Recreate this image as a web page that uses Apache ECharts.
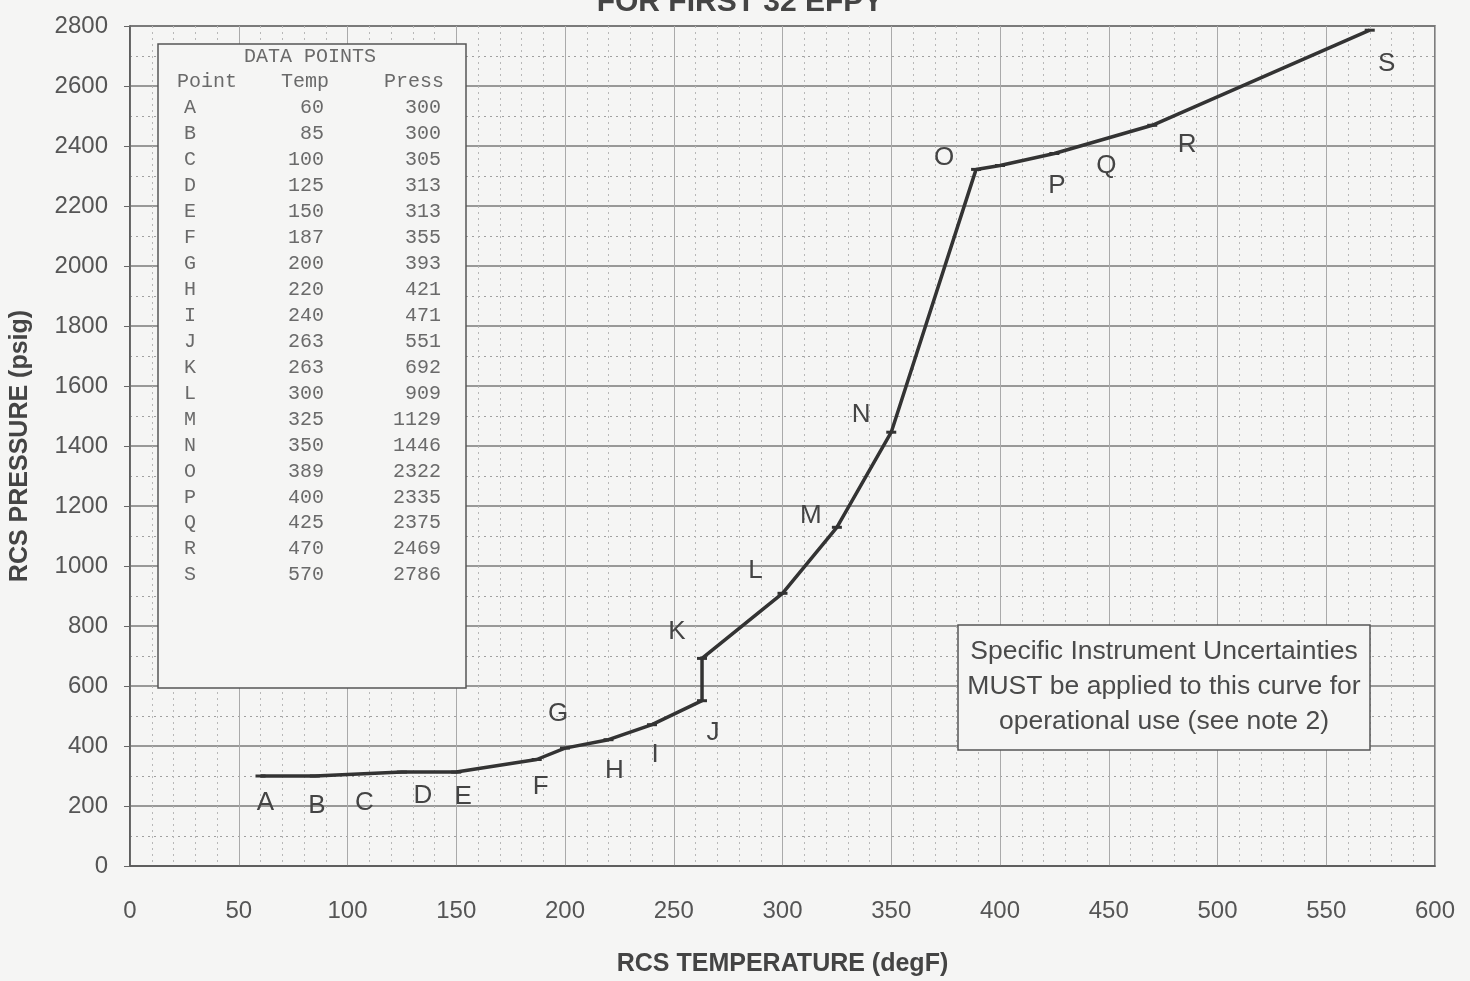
<!DOCTYPE html>
<html>
<head>
<meta charset="utf-8">
<script src="https://cdn.jsdelivr.net/npm/echarts@6/dist/echarts.min.js"></script>
<style>
html,body{margin:0;padding:0;background:#f5f5f4;}
#chart{width:1470px;height:981px;}
</style>
</head>
<body>
<div id="chart"></div>
<script>
// ---- data ----
const pointNames = ['A','B','C','D','E','F','G','H','I','J','K','L','M','N','O','P','Q','R','S'];
const temps = [60,85,100,125,150,187,200,220,240,263,263,300,325,350,389,400,425,470,570];
const pressures = [300,300,305,313,313,355,393,421,471,551,692,909,1129,1446,2322,2335,2375,2469,2786];
const xTicks = [0,50,100,150,200,250,300,350,400,450,500,550,600];
const yTicks = [0,200,400,600,800,1000,1200,1400,1600,1800,2000,2200,2400,2600,2800];
const titleText = 'FOR FIRST 32 EFPY';
const xAxisName = 'RCS TEMPERATURE (degF)';
const yAxisName = 'RCS PRESSURE (psig)';
const noteLines = ['Specific Instrument Uncertainties','MUST be applied to this curve for','operational use (see note 2)'];

// ---- styling (label offsets in px, not data) ----
const labelOffsets = [[5,27],[2,30],[17,28],[21,24],[7,25],[4,27],[-7,-34],[6,31],[3,30],[11,32],
  [-25,-27],[-27,-22],[-26,-11],[-30,-17],[-32,-12],[57,20],[52,12],[35,20],[17,34]];

const BG = '#f5f5f4';
const SANS = '"Liberation Sans", Arial, sans-serif';
const chart = echarts.init(document.getElementById('chart'));

const seriesData = temps.map((t,i)=>({
  value:[t,pressures[i]],
  label:{offset:labelOffsets[i], formatter:pointNames[i]}
}));

// data table graphic
const tableEls = [];
const tblX = 158, tblY = 44, tblW = 308, tblH = 644;
tableEls.push({type:'rect', shape:{x:tblX,y:tblY,width:tblW,height:tblH},
  style:{fill:BG, stroke:'#555', lineWidth:1.5}, z:10});
const monoFont = '20px "Liberation Mono", "DejaVu Sans Mono", monospace';
const tColor = '#6a6a6a';
tableEls.push({type:'text', x:310, y:57, style:{text:'DATA POINTS', font:monoFont, fill:tColor, textAlign:'center', textVerticalAlign:'middle'}, z:11});
tableEls.push({type:'text', x:177, y:82, style:{text:'Point', font:monoFont, fill:tColor, textAlign:'left', textVerticalAlign:'middle'}, z:11});
tableEls.push({type:'text', x:329, y:82, style:{text:'Temp', font:monoFont, fill:tColor, textAlign:'right', textVerticalAlign:'middle'}, z:11});
tableEls.push({type:'text', x:444, y:82, style:{text:'Press', font:monoFont, fill:tColor, textAlign:'right', textVerticalAlign:'middle'}, z:11});
pointNames.forEach((n,i)=>{
  const y = 108 + i*25.95;
  tableEls.push({type:'text', x:184, y:y, style:{text:n, font:monoFont, fill:tColor, textAlign:'left', textVerticalAlign:'middle'}, z:11});
  tableEls.push({type:'text', x:324, y:y, style:{text:String(temps[i]), font:monoFont, fill:tColor, textAlign:'right', textVerticalAlign:'middle'}, z:11});
  tableEls.push({type:'text', x:441, y:y, style:{text:String(pressures[i]), font:monoFont, fill:tColor, textAlign:'right', textVerticalAlign:'middle'}, z:11});
});

// note box
const noteEls = [
  {type:'rect', shape:{x:958,y:625,width:412,height:125}, style:{fill:BG, stroke:'#555', lineWidth:1.5}, z:10}
];
noteLines.forEach((t,i)=>{
  noteEls.push({type:'text', x:1164, y:652+i*35, style:{text:t, font:'26.5px ' + SANS, fill:'#4a4a4a', textAlign:'center', textVerticalAlign:'middle'}, z:11});
});

const option = {
  backgroundColor: BG,
  animation:false,
  grid:{left:130, right:35, top:26, bottom:115, show:true, borderColor:'#555', borderWidth:1.5, backgroundColor:'transparent', containLabel:false, outerBoundsMode:'none'},
  xAxis:{
    type:'value', min:xTicks[0], max:xTicks[xTicks.length-1], interval:50,
    name:xAxisName, nameLocation:'middle', nameGap:86,
    nameTextStyle:{fontSize:25, fontWeight:'bold', color:'#444', fontFamily:SANS},
    axisLine:{show:true, lineStyle:{color:'#555', width:1.5}},
    axisTick:{show:false},
    axisLabel:{margin:33, fontSize:24, color:'#555', fontFamily:SANS, formatter:v=>String(v)},
    splitLine:{show:true, lineStyle:{color:'#aaa', width:1}},
    minorTick:{show:false, splitNumber:5},
    minorSplitLine:{show:true, lineStyle:{color:'#b8b8b8', width:1, type:[2,4]}}
  },
  yAxis:{
    type:'value', min:yTicks[0], max:yTicks[yTicks.length-1], interval:200,
    name:yAxisName, nameLocation:'middle', nameGap:97, nameRotate:90,
    nameTextStyle:{fontSize:25, fontWeight:'bold', color:'#444', fontFamily:SANS},
    axisLine:{show:true, lineStyle:{color:'#555', width:1.5}},
    axisTick:{show:true, inside:false, length:6, lineStyle:{color:'#666'}},
    axisLabel:{margin:22, fontSize:24, color:'#555', fontFamily:SANS, formatter:v=>String(v)},
    splitLine:{show:true, lineStyle:{color:'#7a7a7a', width:1.5}},
    minorTick:{show:false, splitNumber:2},
    minorSplitLine:{show:true, lineStyle:{color:'#a0a0a0', width:1, type:[2,4]}}
  },
  graphic:[
    {type:'text', x:740, y:18, style:{text:titleText, font:'bold 30px ' + SANS, fill:'#444', textAlign:'center', textVerticalAlign:'bottom'}, z:11},
    ...tableEls,
    ...noteEls
  ],
  series:[{
    type:'line',
    data:seriesData,
    symbol:'rect', symbolSize:[10,3], showAllSymbol:true,
    lineStyle:{color:'#333', width:3.5},
    itemStyle:{color:'#333'},
    label:{show:true, position:'inside', fontSize:26, color:'#444', fontFamily:SANS},
    z:5
  }]
};
chart.setOption(option);
</script>
</body>
</html>
